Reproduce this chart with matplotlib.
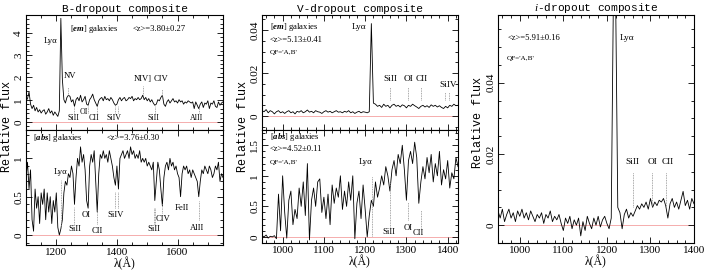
import numpy as np
import matplotlib
matplotlib.use("Agg")
import matplotlib.pyplot as plt
from matplotlib.ticker import MultipleLocator, FuncFormatter

plt.rcParams['font.family'] = ['Liberation Serif', 'DejaVu Serif']
plt.rcParams['mathtext.fontset'] = 'custom'
plt.rcParams['mathtext.rm'] = 'Liberation Serif'
plt.rcParams['mathtext.it'] = 'Liberation Serif:italic'
plt.rcParams['mathtext.bf'] = 'Liberation Serif:italic:bold'

# ---- spectra (rest-frame wavelength grid, 5 A steps) ----
wave_b = np.arange(1100, 1751, 5)
flux_b_em = [
    0.95, 1.05, 1.35, 0.8, 0.6, 0.75, 0.5, 0.65, 0.45, 0.55,
    0.4, 0.5, 0.55, 0.35, 0.45, 0.6, 0.4, 0.5, 0.3, 0.45,
    0.35, 0.25, 0.5, 4.65, 1.9, 1.0, 0.85, 1.1, 1.2, 1.15,
    0.9, 1.0, 0.7, 1.0, 1.1, 0.95, 1.2, 0.9, 1.0, 1.15,
    0.8, 0.75, 1.0, 1.1, 1.25, 1.0, 0.85, 0.7, 0.95, 1.05,
    1.1, 0.95, 1.15, 1.0, 1.05, 0.95, 1.1, 1.0, 0.85, 0.75,
    0.8, 1.0, 1.1, 0.95, 1.05, 1.1, 0.95, 1.0, 1.1, 1.05,
    1.15, 0.95, 1.05, 1.0, 1.1, 1.0, 1.05, 1.2, 1.0, 1.1,
    0.95, 1.05, 0.9, 1.0, 0.85, 0.75, 0.8, 1.0, 0.95, 1.1,
    1.2, 0.8, 0.7, 0.9, 1.0, 0.85, 0.95, 1.05, 0.9, 0.95,
    0.85, 1.0, 0.9, 0.95, 0.8, 0.9, 0.85, 0.95, 0.9, 0.85,
    0.9, 0.6, 0.9, 0.75, 0.6, 0.8, 0.9, 0.65, 0.85, 0.8,
    0.95, 0.6, 0.85, 0.8, 0.95, 0.7, 0.65, 0.9, 0.75, 0.85,
    0.9,
]
flux_b_abs = [
    0.75, 0.95, 0.6, 0.85, 0.2, 0.05, 0.6, 0.35, 0.5, 0.15,
    0.55, 0.4, 0.6, 0.2, 0.55, 0.3, 0.5, 0.15, 0.45, 0.3,
    0.55, 0.1, 0.0, 0.08, 0.2, 0.55, 0.7, 0.65, 0.8, 0.75,
    0.9, 0.8, 0.4, 0.75, 1.0, 0.9, 1.15, 0.95, 1.05, 0.85,
    0.45, 0.35, 0.9, 1.05, 0.95, 1.1, 0.7, 0.3, 0.8, 1.05,
    1.0, 1.1, 1.0, 1.05, 0.95, 1.1, 1.0, 0.9, 0.75, 0.65,
    0.9, 0.6, 1.0, 1.05, 1.1, 1.0, 1.05, 1.1, 1.0, 1.15,
    1.05, 1.1, 1.0, 1.05, 1.0, 1.1, 0.95, 1.0, 0.95, 1.0,
    0.9, 0.95, 0.9, 0.85, 0.95, 0.45, 0.7, 0.95, 0.85, 0.6,
    0.38, 0.75, 0.9, 0.95, 0.85, 1.0, 0.9, 0.95, 0.85, 0.9,
    0.8, 0.75, 0.5, 0.8, 0.9, 0.85, 0.9, 0.8, 0.85, 0.75,
    0.85, 0.8, 0.75, 0.7, 0.5, 0.7, 0.85, 0.8, 0.9, 0.85,
    0.8, 0.9, 0.85, 0.75, 0.8, 0.9, 0.85, 0.95, 0.7, 0.8,
    0.75,
]

wave_v = np.arange(950, 1426, 5)
flux_v_em = [
    0.0025, 0.002, 0.003, 0.0015, 0.0025, 0.002, 0.001, 0.002, 0.0025, 0.0015,
    0.002, 0.0012, 0.002, 0.0025, 0.0015, 0.002, 0.001, 0.0022, 0.0018, 0.0025,
    0.0015, 0.002, 0.0028, 0.0018, 0.0022, 0.0015, 0.0025, 0.002, 0.0018, 0.0012,
    0.002, 0.0025, 0.0018, 0.0022, 0.0015, 0.002, 0.0025, 0.0018, 0.002, 0.0015,
    0.0022, 0.0018, 0.0025, 0.0015, 0.002, 0.0012, 0.0018, 0.0022, 0.0015, 0.002,
    0.0018, 0.0015, 0.002, 0.043, 0.006, 0.0055, 0.0045, 0.005, 0.004, 0.0055,
    0.0045, 0.005, 0.0038, 0.005, 0.0055, 0.0045, 0.005, 0.0042, 0.0052, 0.0048,
    0.0038, 0.005, 0.0045, 0.0055, 0.0048, 0.0042, 0.0035, 0.0045, 0.005, 0.0042,
    0.0048, 0.004, 0.0052, 0.0045, 0.005, 0.0042, 0.0048, 0.004, 0.0035, 0.0045,
    0.0038, 0.005, 0.0045, 0.0055, 0.0048, 0.005,
]
flux_v_abs = [
    0.02, 0.0, 0.03, -0.02, 0.01, 0.0, 0.02, -0.03, 0.7, 0.1,
    1.0, 0.4, -0.02, 0.6, 0.75, 0.2, 0.45, 0.3, 0.8, 0.5,
    0.9, 0.35, 1.2, -0.05, 0.6, 0.8, 0.5, 0.9, 0.95, 0.4,
    0.65, 0.3, 0.7, 0.2, 0.85, 0.55, 0.8, 0.65, 1.0, 0.45,
    0.75, 0.5, 0.9, 0.6, 1.0, -0.03, 0.55, 0.75, 0.3, 0.85,
    0.45, 0.0, 0.35, 0.6, 0.5, 0.9, 0.65, 0.8, 1.0, 0.85,
    1.15, 1.0, 0.75, 1.1, 1.25, 1.0, 1.35, 1.2, 1.5, 1.1,
    0.6, 1.25, 1.4, 1.2, 1.55, 1.3, 0.55, 0.9, 1.15, 0.95,
    1.3, 1.05, 1.35, 0.9, 1.2, 1.0, 1.4, 0.85, 1.1, 0.95,
    1.25, 0.8, 1.05, 0.95, 1.3, 1.15,
]

wave_i = np.arange(950, 1401, 5)
flux_i = [
    0.004, 0.002, 0.0045, 0.001, 0.003, 0.0045, 0.002, 0.0035, 0.001, 0.004,
    0.0025, 0.0045, 0.002, 0.0035, 0.0015, 0.004, 0.0025, 0.001, 0.003, 0.002,
    0.0035, 0.0005, 0.003, 0.002, 0.004, 0.001, 0.0025, 0.0015, 0.003, 0.0005,
    -0.0015, 0.002, 0.0005, 0.0025, -0.001, 0.0015, 0.0, 0.002, -0.003, 0.001,
    -0.0015, 0.0025, 0.0005, -0.001, 0.002, 0.0, 0.0025, -0.0005, 0.0015, 0.0025,
    0.0005, -0.001, 0.002, 0.065, 0.065, 0.005, 0.0035, -0.001, 0.003, 0.0045,
    0.002, 0.0035, 0.0025, 0.004, 0.0055, 0.0045, 0.006, 0.005, 0.0065, 0.0045,
    0.0075, 0.005, 0.0065, 0.0055, 0.007, 0.0065, 0.0075, 0.0055, 0.002, 0.006,
    0.0075, 0.005, 0.0065, 0.0045, 0.007, 0.0095, 0.0055, 0.007, 0.0045, 0.0075,
    0.006,
]

W, H = 708.0, 273.0


def make_axes(fig, left, top, width, height):
    return fig.add_axes([left / W, 1 - (top + height) / H, width / W, height / H])


def style(ax, xmaj, xmin, ymaj, ymin, show_x=True):
    ax.xaxis.set_major_locator(MultipleLocator(xmaj))
    ax.xaxis.set_minor_locator(MultipleLocator(xmin))
    ax.yaxis.set_major_locator(MultipleLocator(ymaj))
    ax.yaxis.set_minor_locator(MultipleLocator(ymin))
    ax.yaxis.set_major_formatter(FuncFormatter(lambda v, _: f'{v:g}'))
    ax.tick_params(which='both', direction='in', top=True, right=True, labelsize=8,
                   width=0.6, pad=2)
    ax.tick_params(which='major', length=4)
    ax.tick_params(which='minor', length=2)
    for lab in ax.get_yticklabels():
        lab.set_rotation(90)
        lab.set_va('center')
    if not show_x:
        ax.tick_params(labelbottom=False)
    else:
        ax.set_xlabel('λ(Å)', fontsize=8.5, labelpad=0)
    for s in ax.spines.values():
        s.set_linewidth(0.8)


def zero_line(ax):
    ax.axhline(0, color='#f4a0a0', lw=0.6, zorder=1)


def mark(ax, x, y0, y1):
    ax.plot([x, x], [y0, y1], color='0.55', lw=0.6, ls=(0, (1, 1)))


fs = 6.2
mono = 'Liberation Mono'

fig = plt.figure(figsize=(W / 100, H / 100), dpi=100)

# ---------------- B-dropout ----------------
ax = make_axes(fig, 26, 15, 197, 115)
ax.plot(wave_b, flux_b_em, color='k', lw=0.6)
zero_line(ax)
ax.set_xlim(1100, 1750)
ax.set_ylim(-0.36, 4.8)
style(ax, 200, 50, 1, 0.2, show_x=False)
ax.set_title('B-dropout composite', fontsize=8, family=mono, pad=2)
ax.text(1180, 3.55, 'Lyα', fontsize=fs, ha='center')
ax.text(1245, 4.1, r'[$\mathbf{em}$] galaxies', fontsize=fs)
ax.text(1453, 4.1, '<z>=3.80±0.27', fontsize=fs)
ax.text(1225, 1.97, 'NV', fontsize=fs)
mark(ax, 1240, 1.2, 1.55)
ax.text(1486, 1.84, 'NIV]', fontsize=fs, ha='center')
mark(ax, 1486, 1.2, 1.6)
ax.text(1545, 1.84, 'CIV', fontsize=fs, ha='center')
mark(ax, 1549, 1.1, 1.5)
for lbl, xt, yt in [('SiII', 1256, 0.1), ('OI', 1291, 0.38), ('CII', 1323, 0.1),
                    ('SiIV', 1392, 0.1), ('SiII', 1519, 0.1), ('AlII', 1664, 0.1)]:
    ax.text(xt, yt, lbl, fontsize=fs - 0.5, ha='center')
for xl in [1260, 1303, 1335, 1394, 1403, 1527, 1671]:
    mark(ax, xl, 0.4, 0.7)

ax = make_axes(fig, 26, 130, 197, 115)
ax.plot(wave_b, flux_b_abs, color='k', lw=0.6)
zero_line(ax)
ax.set_xlim(1100, 1750)
ax.set_ylim(-0.13, 1.37)
style(ax, 200, 50, 0.5, 0.1)
ax.text(1124, 1.24, r'[$\mathbf{abs}$] galaxies', fontsize=fs)
ax.text(1367, 1.24, '<z>=3.76±0.30', fontsize=fs)
ax.text(1215, 0.8, 'Lyα', fontsize=fs, ha='center')
mark(ax, 1216, 0.1, 0.72)
for lbl, xt, yt in [('SiII', 1262, 0.05), ('OI', 1298, 0.23), ('CII', 1334, 0.03),
                    ('SiIV', 1397, 0.24), ('SiII', 1522, 0.05), ('CIV', 1552, 0.18),
                    ('FeII', 1615, 0.32), ('AlII', 1664, 0.07)]:
    ax.text(xt, yt, lbl, fontsize=fs, ha='center')
mark(ax, 1260, 0.14, 0.36)
mark(ax, 1335, 0.14, 0.33)
mark(ax, 1394, 0.35, 0.56)
mark(ax, 1403, 0.35, 0.56)
mark(ax, 1522, 0.14, 0.35)
mark(ax, 1527, 0.14, 0.35)
mark(ax, 1549, 0.29, 0.42)
mark(ax, 1671, 0.2, 0.45)
fig.text(7 / W, 1 - 126 / H, 'Relative flux', rotation=90, fontsize=8.5,
         family=mono, ha='center', va='center')

# ---------------- V-dropout ----------------
ax = make_axes(fig, 262, 15, 196, 115)
ax.plot(wave_v, flux_v_em, color='k', lw=0.6)
zero_line(ax)
ax.set_xlim(950, 1425)
ax.set_ylim(-0.0065, 0.047)
style(ax, 100, 20, 0.02, 0.005, show_x=False)
ax.set_title('V-dropout composite', fontsize=8, family=mono, pad=2)
ax.text(969, 0.0405, r'[$\mathbf{em}$] galaxies', fontsize=fs)
ax.text(969, 0.0345, '<z>=5.13±0.41', fontsize=fs)
ax.text(969, 0.029, "QF='A,B'", fontsize=fs - 1)
ax.text(1185, 0.0405, 'Lyα', fontsize=fs + 0.5, ha='center')
for lbl, xt in [('SiII', 1260), ('OI', 1304), ('CII', 1338)]:
    ax.text(xt, 0.0165, lbl, fontsize=fs + 0.5, ha='center')
ax.text(1401, 0.0133, 'SiIV', fontsize=fs + 0.5, ha='center')
for xl in [1260, 1303, 1335]:
    mark(ax, xl, 0.0074, 0.0135)
for xl in [1394, 1403]:
    mark(ax, xl, 0.0074, 0.011)

ax = make_axes(fig, 262, 130, 196, 113)
ax.plot(wave_v, flux_v_abs, color='k', lw=0.6)
zero_line(ax)
ax.set_xlim(950, 1425)
ax.set_ylim(-0.1, 1.75)
style(ax, 100, 20, 0.5, 0.1)
ax.text(969, 1.61, r'[$\mathbf{abs}$] galaxies', fontsize=fs)
ax.text(969, 1.41, '<z>=4.52±0.11', fontsize=fs)
ax.text(969, 1.2, "QF='A,B'", fontsize=fs - 1)
ax.text(1200, 1.19, 'Lyα', fontsize=fs, ha='center')
mark(ax, 1216, 0.02, 1.0)
ax.text(1258, 0.05, 'SiII', fontsize=fs, ha='center')
ax.text(1304, 0.11, 'OI', fontsize=fs, ha='center')
ax.text(1328, 0.03, 'CII', fontsize=fs, ha='center')
mark(ax, 1260, 0.16, 0.9)
mark(ax, 1303, 0.28, 0.57)
mark(ax, 1335, 0.15, 0.44)
fig.text(243 / W, 1 - 126 / H, 'Relative flux', rotation=90, fontsize=8.5,
         family=mono, ha='center', va='center')

# ---------------- i-dropout ----------------
ax = make_axes(fig, 498, 15, 196, 228)
ax.plot(wave_i, flux_i, color='k', lw=0.6)
zero_line(ax)
ax.set_xlim(950, 1400)
ax.set_ylim(-0.005, 0.059)
style(ax, 100, 20, 0.02, 0.005)
ax.set_title('$i$-dropout composite', fontsize=8, family=mono, pad=2)
ax.text(971, 0.052, '<z>=5.91±0.16', fontsize=fs)
ax.text(971, 0.0465, "QF='A,B'", fontsize=fs - 1)
ax.text(1230, 0.052, 'Lyα', fontsize=fs + 0.5)
for lbl, xt in [('SiII', 1258), ('OI', 1304), ('CII', 1340)]:
    ax.text(xt, 0.0172, lbl, fontsize=fs + 0.5, ha='center')
for xl in [1260, 1303, 1335]:
    mark(ax, xl, 0.005, 0.0149)
fig.text(478 / W, 1 - 122 / H, 'Relative flux', rotation=90, fontsize=8.5,
         family=mono, ha='center', va='center')

fig.savefig('out.png', dpi=100)
